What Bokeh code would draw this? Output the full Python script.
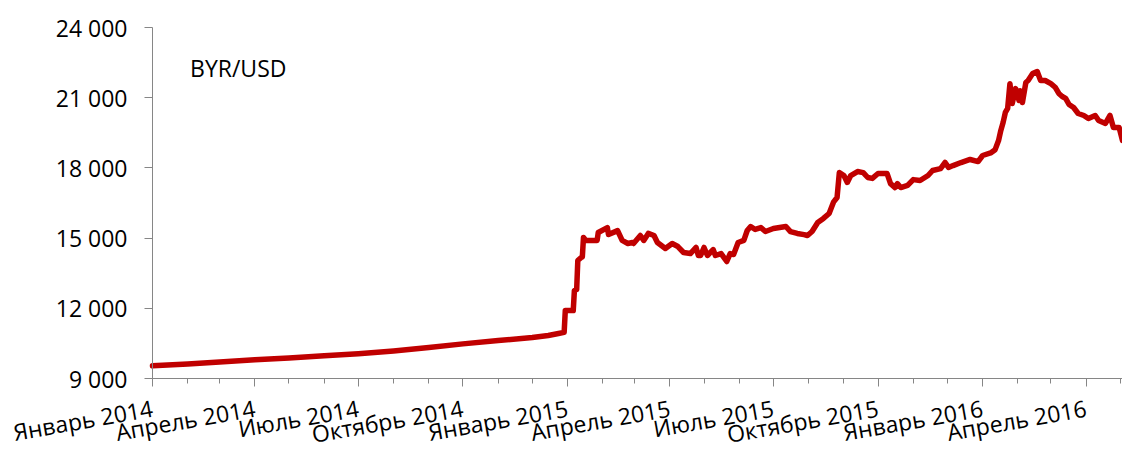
import pandas as pd
from bokeh.plotting import figure
from bokeh.models import FixedTicker, Label, Range1d
from bokeh.embed import file_html
from bokeh.resources import INLINE

# ---- data (BYR per USD) ----
dates = [
    "2014-01-01", "2014-02-01", "2014-03-01", "2014-04-01", "2014-05-01", "2014-06-01",
    "2014-07-01", "2014-08-01", "2014-09-01", "2014-10-01", "2014-11-01", "2014-12-01",
    "2014-12-15", "2014-12-24", "2014-12-29", "2014-12-30",
    "2015-01-06", "2015-01-07", "2015-01-09", "2015-01-10", "2015-01-13", "2015-01-14",
    "2015-01-15", "2015-01-17", "2015-01-27", "2015-01-28", "2015-02-05", "2015-02-06",
    "2015-02-14", "2015-02-18", "2015-02-23", "2015-02-27", "2015-02-28", "2015-03-06",
    "2015-03-09", "2015-03-13", "2015-03-18", "2015-03-21", "2015-03-28", "2015-04-03",
    "2015-04-08", "2015-04-13", "2015-04-19", "2015-04-24", "2015-04-26", "2015-04-28",
    "2015-05-01", "2015-05-04", "2015-05-09", "2015-05-11", "2015-05-16", "2015-05-21",
    "2015-05-24", "2015-05-27", "2015-05-31", "2015-06-05", "2015-06-08", "2015-06-11",
    "2015-06-15", "2015-06-20", "2015-06-24", "2015-07-01", "2015-07-12", "2015-07-16",
    "2015-07-22", "2015-07-28", "2015-07-31", "2015-08-04", "2015-08-09", "2015-08-14",
    "2015-08-19", "2015-08-23", "2015-08-26", "2015-08-28", "2015-09-01", "2015-09-04",
    "2015-09-07", "2015-09-13", "2015-09-18", "2015-09-22", "2015-09-26", "2015-10-01",
    "2015-10-09", "2015-10-12", "2015-10-16", "2015-10-18", "2015-10-21", "2015-10-27",
    "2015-11-01", "2015-11-07", "2015-11-14", "2015-11-18", "2015-11-25", "2015-11-29",
    "2015-12-02", "2015-12-06", "2015-12-13", "2015-12-21", "2015-12-28",
    "2016-01-01", "2016-01-08", "2016-01-12", "2016-01-15", "2016-01-17", "2016-01-19",
    "2016-01-21", "2016-01-23", "2016-01-25", "2016-01-27", "2016-01-30", "2016-02-02",
    "2016-02-03", "2016-02-05", "2016-02-08", "2016-02-10", "2016-02-14", "2016-02-18",
    "2016-02-21", "2016-02-25", "2016-03-01", "2016-03-05", "2016-03-08", "2016-03-11",
    "2016-03-14", "2016-03-17", "2016-03-21", "2016-03-25", "2016-03-30", "2016-04-03",
    "2016-04-09", "2016-04-12", "2016-04-18", "2016-04-22", "2016-04-25", "2016-04-30",
    "2016-05-03",
]
rates = [
    9540, 9620, 9700, 9800, 9880, 9970,
    10060, 10180, 10320, 10480, 10620, 10750,
    10840, 10920, 10970, 11906,
    11906, 12760, 12800, 14040, 14170, 14200,
    15025, 14900, 14900, 15240, 15450, 15150,
    15320, 14900, 14770, 14810, 14770, 15110,
    14900, 15200, 15110, 14810, 14555, 14770,
    14640, 14385, 14340, 14600, 14256, 14256,
    14600, 14256, 14510, 14256, 14340, 14000,
    14340, 14300, 14810, 14900, 15325, 15495,
    15370, 15450, 15280, 15410, 15495, 15280,
    15200, 15150, 15110, 15280, 15670, 15840,
    16050, 16550, 16735, 17800, 17675, 17380,
    17675, 17845, 17800, 17590, 17550, 17760,
    17760, 17330, 17160, 17330, 17160, 17250,
    17500, 17460, 17675, 17890, 17970, 18230,
    18020, 18100, 18230, 18360, 18270,
    18530, 18640, 18780, 19170, 19600, 19940,
    20370, 20540, 21600, 20750, 21390, 20880,
    21300, 20795, 21650, 21735, 22030, 22120,
    21735, 21735, 21600, 21435, 21180, 21050,
    20970, 20710, 20580, 20325, 20240, 20110,
    20240, 20025, 19900, 20240, 19730, 19730,
    19170,
]

quarter_dates = ["2014-01-01", "2014-04-01", "2014-07-01", "2014-10-01",
                 "2015-01-01", "2015-04-01", "2015-07-01", "2015-10-01",
                 "2016-01-01", "2016-04-01"]
quarter_labels = ["Январь 2014", "Апрель 2014", "Июль 2014", "Октябрь 2014",
                  "Январь 2015", "Апрель 2015", "Июль 2015", "Октябрь 2015",
                  "Январь 2016", "Апрель 2016"]
y_ticks = [9000, 12000, 15000, 18000, 21000, 24000]
y_labels = ["9 000", "12 000", "15 000", "18 000", "21 000", "24 000"]
series_name = "BYR/USD"

# ---- conversion to day numbers ----
origin = pd.Timestamp("2014-01-01")
def day(d):
    return int((pd.Timestamp(d) - origin).days)

xs = [day(d) for d in dates]
major = [day(d) for d in quarter_dates]
minor = [day(d) for d in pd.date_range("2014-01-01", "2016-05-01", freq="MS")]

FONT = "Open Sans"
AXIS_GREY = "#868686"

# layout (pixels): the frame fills the canvas; the value area is inset so
# that the axes (pinned to the data bounds) have room for their labels
W, H = 1122, 450
LEFT_PX, TOP_PX, BOTTOM_PX = 152, 27, 72
x_min, x_max = 0, xs[-1]
y_min, y_max = y_ticks[0], y_ticks[-1]
plot_w = W - LEFT_PX
plot_h = H - TOP_PX - BOTTOM_PX
x_lo = x_min - LEFT_PX / plot_w * (x_max - x_min)
y_lo = y_min - BOTTOM_PX / plot_h * (y_max - y_min)
y_hi = y_max + TOP_PX / plot_h * (y_max - y_min)

p = figure(width=W, height=H, output_backend="svg", toolbar_location=None,
           x_range=Range1d(x_lo, x_max), y_range=Range1d(y_lo, y_hi),
           min_border_left=0, min_border_right=0, min_border_top=0,
           min_border_bottom=0)
p.outline_line_color = None
p.grid.visible = False
p.background_fill_color = "white"
p.border_fill_color = "white"

p.line(xs, rates, line_color="#C00000", line_width=5.5, line_join="round", line_cap="round")

# x axis pinned at the lowest value
xa = p.xaxis[0]
xa.fixed_location = y_min
xa.bounds = (x_min, x_max)
xa.ticker = FixedTicker(ticks=major, minor_ticks=minor)
xa.major_label_overrides = {k: v for k, v in zip(major, quarter_labels)}
xa.major_label_orientation = 0.175
xa.axis_line_color = AXIS_GREY
xa.major_tick_line_color = AXIS_GREY
xa.minor_tick_line_color = AXIS_GREY
xa.major_tick_in = 0
xa.major_tick_out = 8
xa.minor_tick_in = 0
xa.minor_tick_out = 5
xa.major_label_text_font = FONT
xa.major_label_text_font_size = "23px"
xa.major_label_text_color = "black"
xa.major_label_standoff = 21

# y axis pinned at the first date
ya = p.yaxis[0]
ya.fixed_location = x_min
ya.bounds = (y_min, y_max)
ya.ticker = FixedTicker(ticks=y_ticks, minor_ticks=[])
ya.major_label_overrides = {k: v for k, v in zip(y_ticks, y_labels)}
ya.axis_line_color = AXIS_GREY
ya.major_tick_line_color = AXIS_GREY
ya.major_tick_in = 0
ya.major_tick_out = 8
ya.minor_tick_line_color = None
ya.major_label_text_font = FONT
ya.major_label_text_font_size = "23px"
ya.major_label_text_color = "black"
ya.major_label_standoff = 17

p.add_layout(Label(x=day("2014-02-03"), y=22290, text=series_name,
                   text_font=FONT, text_font_size="23px", text_color="black",
                   text_baseline="alphabetic", text_align="left"))

open("out.html", "w").write(file_html(p, INLINE))
